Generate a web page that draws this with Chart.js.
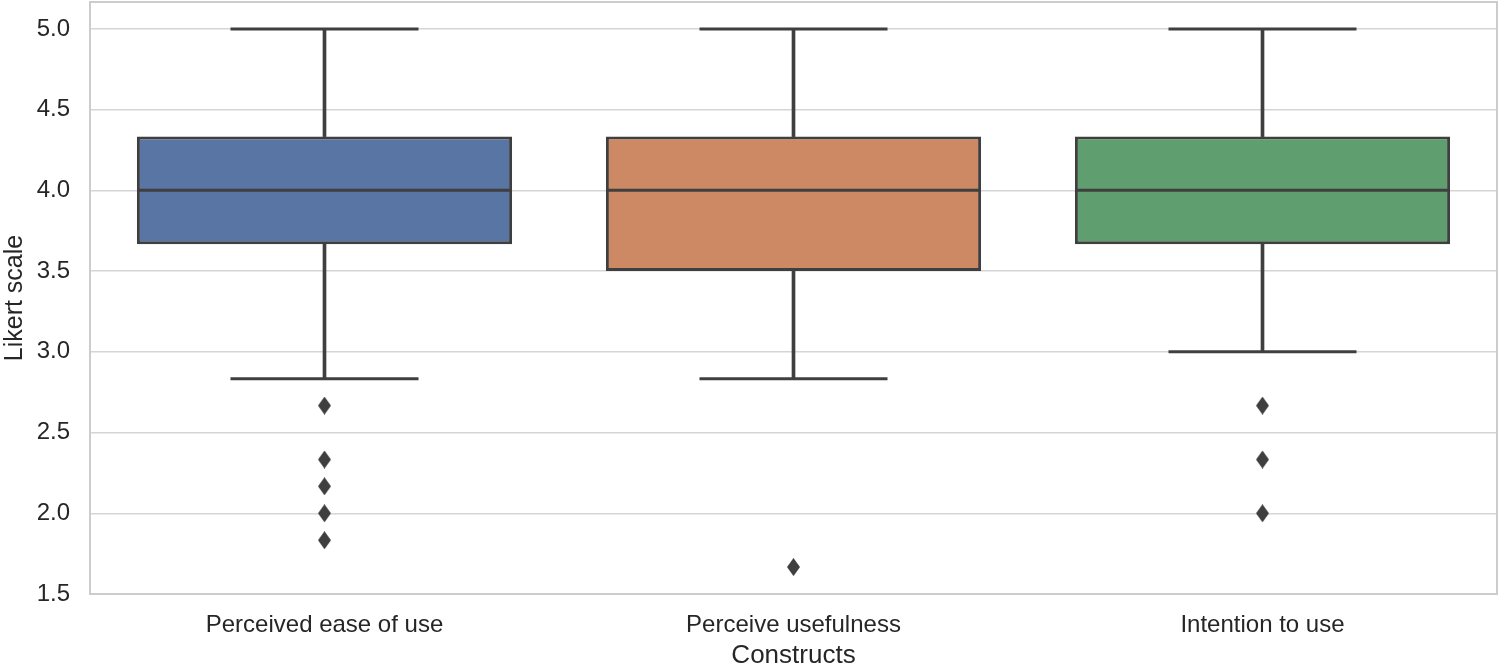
<!DOCTYPE html>
<html>
<head>
<meta charset="utf-8">
<script src="https://cdn.jsdelivr.net/npm/chart.js@4/dist/chart.umd.min.js"></script>
<style>
  html, body { margin:0; padding:0; background:#fff; overflow:hidden; }
  #wrap { position:relative; width:1499px; height:667px; }
</style>
</head>
<body>
<div id="wrap"><canvas id="chart"></canvas></div>
<script>
// box plot data
const categories = ['Perceived ease of use', 'Perceive usefulness', 'Intention to use'];
const whiskerLow = [2.833, 2.833, 3.0];
const q1 = [3.667, 3.5, 3.667];
const median = [4.0, 4.0, 4.0];
const q3 = [4.333, 4.333, 4.333];
const whiskerHigh = [5.0, 5.0, 5.0];
const outliers = [
  [2.667, 2.333, 2.167, 2.0, 1.833],
  [1.667],
  [2.667, 2.333, 2.0]
];
const yTicks = [1.5, 2.0, 2.5, 3.0, 3.5, 4.0, 4.5, 5.0];

const boxColors = ['#5975a4', '#cc8963', '#5f9e6e'];
const LINE = '#3f3f3f';
const FONT = "'Liberation Sans', Arial, sans-serif";

// thin diamond marker like matplotlib 'd'
function diamond(w, h){
  const c = document.createElement('canvas'); c.width = w; c.height = h;
  const g = c.getContext('2d');
  g.fillStyle = LINE;
  g.beginPath(); g.moveTo(w/2, 0); g.lineTo(w, h/2); g.lineTo(w/2, h); g.lineTo(0, h/2); g.closePath(); g.fill();
  return c;
}

const pts = (arr) => arr.map((v, i) => ({ x: categories[i], y: v }));
const outlierPts = outliers.flatMap((list, i) => list.map(v => ({ x: categories[i], y: v })));

// light frame round the plot area
const frame = {
  id: 'frame',
  beforeDatasetsDraw(chart){
    const { ctx, chartArea: a } = chart;
    ctx.save(); ctx.strokeStyle = '#cccccc'; ctx.lineWidth = 2;
    ctx.strokeRect(a.left, a.top, a.right - a.left, a.bottom - a.top);
    ctx.restore();
  }
};

new Chart(document.getElementById('chart'), {
  data: {
    labels: categories,
    datasets: [
      { type:'line', label:'outliers', data: outlierPts, showLine:false, pointStyle: diamond(13, 18), order:0 },
      { type:'line', label:'median', data: pts(median), showLine:false, pointStyle:'line', pointRadius:187, borderColor:LINE, borderWidth:3, order:1 },
      { type:'line', label:'caps', data: [...pts(whiskerLow), ...pts(whiskerHigh)], showLine:false, pointStyle:'line', pointRadius:94, borderColor:LINE, borderWidth:3, order:1 },
      { type:'bar', label:'box', data: categories.map((_, i) => [q1[i], q3[i]]), backgroundColor: boxColors, borderColor: LINE, borderWidth: 3, borderSkipped: false, barPercentage: 0.8, categoryPercentage: 1, grouped:false, order:2 },
      { type:'bar', label:'upper', data: categories.map((_, i) => [q3[i], whiskerHigh[i]]), backgroundColor: LINE, barThickness: 3, grouped:false, order:3 },
      { type:'bar', label:'lower', data: categories.map((_, i) => [whiskerLow[i], q1[i]]), backgroundColor: LINE, barThickness: 3, grouped:false, order:3 }
    ]
  },
  options: {
    responsive:true, maintainAspectRatio:false, animation:false, devicePixelRatio:1,
    layout: { autoPadding:false, padding: { top: 2, right: 2, left: 0, bottom: -4 } },
    plugins: { legend:{ display:false }, tooltip:{ enabled:false } },
    scales: {
      x: {
        type:'category',
        grid:{ display:false, drawTicks:false },
        border:{ display:false },
        ticks:{ color:'#262626', font:{ family:FONT, size:24 }, padding:17 },
        title:{ display:true, text:'Constructs', color:'#262626', font:{ family:FONT, size:26 }, padding:{ top:2, bottom:0 } },
        afterFit(s){ s.height = 77; }
      },
      y: {
        min:1.5, max:5.1667,
        afterBuildTicks(s){ s.ticks = yTicks.map(v => ({ value: v })); },
        grid:{ color:'#d5d5d5', lineWidth:1.5, drawTicks:false },
        border:{ display:false },
        ticks:{ color:'#262626', font:{ family:FONT, size:24 }, padding:20, callback: v => v.toFixed(1) },
        title:{ display:true, text:'Likert scale', color:'#262626', font:{ family:FONT, size:25 }, padding:{ top:0, bottom:0 } },
        afterFit(s){ s.width = 90; s.paddingTop = 0; s.paddingBottom = 0; }
      }
    }
  },
  plugins: [frame]
});
</script>
</body>
</html>
